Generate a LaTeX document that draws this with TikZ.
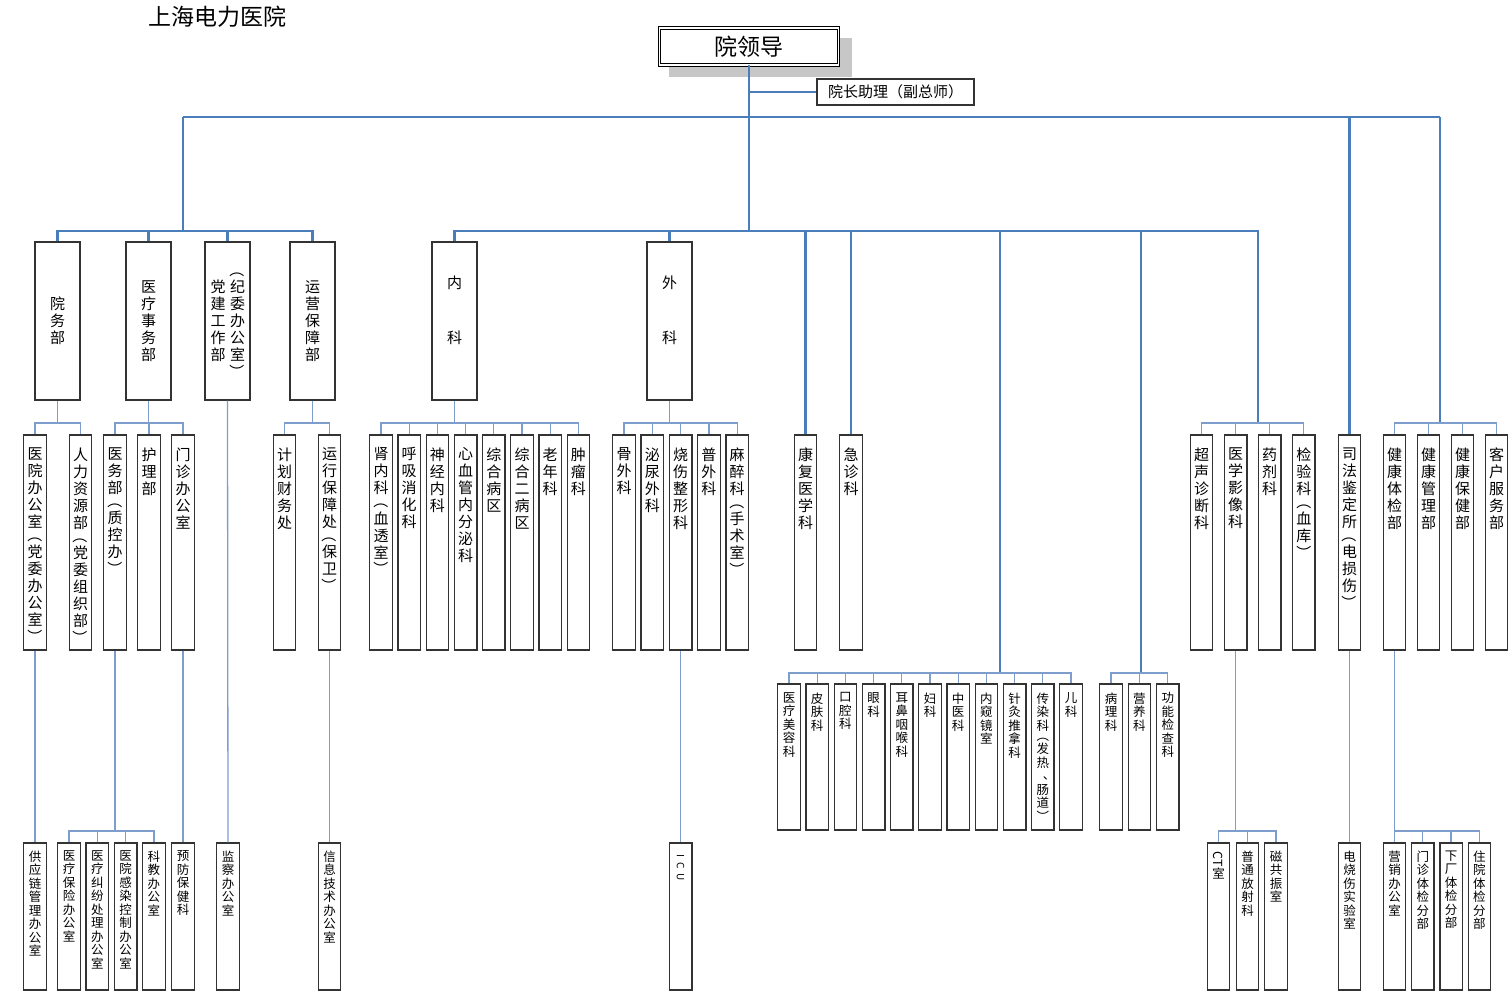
\documentclass[tikz,border=0pt]{standalone}
\usepackage{fontspec}
\usepackage{graphicx}
\setmainfont{Noto Sans CJK SC}

\definecolor{trunkblue}{RGB}{74,126,187}
\definecolor{linkblue}{RGB}{125,158,204}

\makeatletter
% vertical text: one character per line, brackets turned
\def\vt@lp{︵}\def\vt@rp{︶}\def\vt@dn{︑}
\def\vt@L{\rotatebox[origin=c]{-90}{（}}
\def\vt@R{\rotatebox[origin=c]{-90}{）}}
\def\vt@C{\makebox[1em][l]{\hspace{0.5em}\raisebox{0.15em}{、}}}
\def\vt@tight{\\[-0.25em]}
\newcommand\vtxt[1]{%
  \edef\vt@arg{#1}\def\vt@out{}\def\vt@sep{}%
  \expandafter\@tfor\expandafter\vt@c\expandafter:\expandafter=\vt@arg\do{%
    \let\vt@next\\%
    \ifx\vt@c\vt@lp
      \def\vt@item{\vt@L}\ifx\vt@sep\@empty\else\let\vt@sep\vt@tight\fi
    \else\ifx\vt@c\vt@rp
      \def\vt@item{\vt@R}\let\vt@next\vt@tight
    \else\ifx\vt@c\vt@dn
      \def\vt@item{\vt@C}%
    \else
      \let\vt@item\vt@c
    \fi\fi\fi
    \edef\vt@out{\unexpanded\expandafter{\vt@out}\unexpanded\expandafter{\vt@sep}\unexpanded\expandafter{\vt@item}}%
    \ifx\vt@next\vt@tight\def\vt@sep{\vt@tight}\else\def\vt@sep{\\}\fi}%
  \vt@out}
\makeatother

\begin{document}
\begin{tikzpicture}[x=1pt,y=-1pt,
  trunk/.style={draw=trunkblue,line width=2.8pt},
  link/.style={draw=linkblue,line width=1.3pt},
  vt/.style={align=center,inner sep=0pt,font=\fontsize{15}{17}\selectfont},
  vts/.style={align=center,inner sep=0pt,font=\fontsize{12.5}{13.5}\selectfont},
  box/.style={draw=black!80,line width=1.3pt,fill=white,inner sep=0pt},
  lead/.style={draw=black,double=white,double distance=1.6pt,line width=0.9pt,fill=white,
    minimum width=179pt,minimum height=37pt,font=\fontsize{23}{23}\selectfont},
  midbox/.style={box,vt,minimum width=45pt,minimum height=158pt},
  unitbox/.style={box,minimum width=22.5pt,minimum height=215pt},
  subbox/.style={box,minimum width=22.5pt,minimum height=146pt},
  lowbox/.style={box,minimum width=22.5pt,minimum height=147pt},
  toptext/.style={label={[vt,anchor=north,yshift=-13pt]north:{\vtxt{#1}}}},
  subtext/.style={label={[vts,anchor=north,yshift=-9pt]north:{\vtxt{#1}}}},
  lowtext/.style={label={[vts,anchor=north,yshift=-8pt]north:{\vtxt{#1}}}}]
\useasboundingbox (0,0) rectangle (1509,991);

% title
\node[font=\fontsize{23}{23}\selectfont] (title) at (217,17) {上海电力医院};

% leadership
\fill[black!22] (669,38) rectangle (852,77);
\node[lead] (lead) at (749,46.5) {院领导};
\node[box,minimum width=157pt,minimum height=26pt,font=\fontsize{15}{15}\selectfont] (asst) at (895.5,92) {院长助理（副总师）};

% level 2
\node[midbox] (yuanwu) at (57.5,321) {\vtxt{院务部}};
\node[midbox] (yiliao) at (148.5,321) {\vtxt{医疗事务部}};
\node[midbox,label={[vt,xshift=-9.5pt]center:\vtxt{党建工作部}},label={[vt,xshift=10pt]center:\vtxt{︵纪委办公室︶}}] (dangjian) at (227.5,321) {};
\node[midbox] (yunying) at (312.5,321) {\vtxt{运营保障部}};
\node[midbox,label={[vt,yshift=38pt]center:内},label={[vt,yshift=-17pt]center:科}] (neike) at (454.5,321) {};
\node[midbox,label={[vt,yshift=38pt]center:外},label={[vt,yshift=-17pt]center:科}] (waike) at (669.5,321) {};

% level 3
\foreach \n/\x/\t in {bgs/35/医院办公室︵党委办公室︶, rlzy/80.5/人力资源部︵党委组织部︶,
    yiwu/115/医务部︵质控办︶, huli/149/护理部, menzhen/183/门诊办公室,
    caiwu/284.5/计划财务处, baozhang/329.5/运行保障处︵保卫︶,
    kangfu/805.5/康复医学科, jizhen/851/急诊科, sifa/1349.5/司法鉴定所︵电损伤︶}
  \node[unitbox,toptext=\t] (\n) at (\x,542.5) {};
\foreach \t [count=\i] in {肾内科︵血透室︶,呼吸消化科,神经内科,心血管内分泌科,综合病区,综合二病区,老年科,肿瘤科}
  \node[unitbox,toptext=\t] (nk\i) at ({381+28.2*(\i-1)},542.5) {};
\foreach \t [count=\i] in {骨外科,泌尿外科,烧伤整形科,普外科,麻醉科︵手术室︶}
  \node[unitbox,toptext=\t] (wk\i) at ({624+28.3*(\i-1)},542.5) {};
\foreach \t [count=\i] in {超声诊断科,医学影像科,药剂科,检验科︵血库︶}
  \node[unitbox,toptext=\t] (yj\i) at ({1201.5+34.1*(\i-1)},542.5) {};
\foreach \t [count=\i] in {健康体检部,健康管理部,健康保健部,客户服务部}
  \node[unitbox,toptext=\t] (jk\i) at ({1394.5+34*(\i-1)},542.5) {};

% level 4
\foreach \t [count=\i] in {医疗美容科,皮肤科,口腔科,眼科,耳鼻咽喉科,妇科,中医科,内窥镜室,针灸推拿科,传染科︵发热︑肠道︶,儿科}
  \node[subbox,subtext=\t] (zl\i) at ({789+28.2*(\i-1)},757) {};
\foreach \t [count=\i] in {病理科,营养科,功能检查科}
  \node[subbox,subtext=\t] (fz\i) at ({1111+28.4*(\i-1)},757) {};

% bottom row
\foreach \n/\x/\t in {gongying/35/供应链管理办公室, yufang/183/预防保健科, jiancha/228/监察办公室,
    xinxi/329.5/信息技术办公室, dianshao/1349.5/电烧伤实验室}
  \node[lowbox,lowtext=\t] (\n) at (\x,916.5) {};
\foreach \t [count=\i] in {医疗保险办公室,医疗纠纷处理办公室,医院感染控制办公室,科教办公室}
  \node[lowbox,lowtext=\t] (yw\i) at ({69+28.3*(\i-1)},916.5) {};
\foreach \t [count=\i] in {营销办公室,门诊体检分部,下厂体检分部,住院体检分部}
  \node[lowbox,lowtext=\t] (tj\i) at ({1394.5+28.3*(\i-1)},916.5) {};
\node[lowbox,label={[anchor=north,yshift=-12pt,inner sep=0pt,font=\fontsize{10}{10}\selectfont]north:\rotatebox{-90}{I\enspace C\enspace U}}] (icu) at (680.6,916.5) {};
\node[lowbox,label={[vts,anchor=north,yshift=-9pt]north:{\rotatebox{-90}{CT}\\室}}] (fs1) at (1218.5,916.5) {};
\node[lowbox,lowtext=普通放射科] (fs2) at (1247.5,916.5) {};
\node[lowbox,lowtext=磁共振室] (fs3) at (1276,916.5) {};

% main lines
\coordinate (topL) at (183,117);
\coordinate (topR) at (1440,117);
\coordinate (leftbus) at (183,231);
\coordinate (midbus) at (749,231);
\coordinate (yjbus) at (1258,423);
\coordinate (jkbus) at (1440,423);
\coordinate (zlbus) at (1000,673);
\coordinate (fzbus) at (1141,673);
\draw[trunk] (lead.south) |- (asst.west);
\draw[trunk] (lead.south) -- (midbus);
\draw[trunk] (topL) -- (topR);
\draw[trunk] (topL) -- (leftbus);
\draw[trunk] (yuanwu.north) |- (leftbus) -| (yunying.north);
\foreach \n in {yiliao,dangjian} \draw[trunk] (\n.north) -- (\n.north |- leftbus);
\draw[trunk] (neike.north) |- (midbus) -| (yjbus);
\foreach \n in {waike,kangfu,jizhen} \draw[trunk] (\n.north) -- (\n.north |- midbus);
\foreach \c in {zlbus,fzbus} \draw[trunk] (\c) -- (\c |- midbus);
\draw[trunk] (sifa.north) -- (sifa.north |- topR);
\draw[trunk] (jkbus) -- (topR);

% sub lines
\coordinate (yuanwubus) at (57.5,423);
\draw[link] (yuanwu.south) -- (yuanwubus);
\draw[link] (bgs.north) |- (yuanwubus) -| (rlzy.north);
\coordinate (yiliaobus) at (148.5,423);
\draw[link] (yiliao.south) -- (yiliaobus);
\draw[link] (yiwu.north) |- (yiliaobus) -| (menzhen.north);
\draw[link] (huli.north) -- (huli.north |- yiliaobus);
\draw[link] (dangjian.south) -- (jiancha.north);
\coordinate (yunyingbus) at (312.5,423);
\draw[link] (yunying.south) -- (yunyingbus);
\draw[link] (caiwu.north) |- (yunyingbus) -| (baozhang.north);
\coordinate (neikebus) at (454.5,423);
\draw[link] (neike.south) -- (neikebus);
\draw[link] (nk1.north) |- (neikebus) -| (nk8.north);
\foreach \i in {2,...,7} \draw[link] (nk\i.north) -- (nk\i.north |- neikebus);
\coordinate (waikebus) at (669.5,423);
\draw[link] (waike.south) -- (waikebus);
\draw[link] (wk1.north) |- (waikebus) -| (wk5.north);
\foreach \i in {2,3,4} \draw[link] (wk\i.north) -- (wk\i.north |- waikebus);
\draw[link] (yj1.north) |- (yjbus) -| (yj4.north);
\foreach \i in {2,3} \draw[link] (yj\i.north) -- (yj\i.north |- yjbus);
\draw[link] (jk1.north) |- (jkbus) -| (jk4.north);
\foreach \i in {2,3} \draw[link] (jk\i.north) -- (jk\i.north |- jkbus);
\draw[link] (zl1.north) |- (zlbus) -| (zl11.north);
\foreach \i in {2,...,10} \draw[link] (zl\i.north) -- (zl\i.north |- zlbus);
\draw[link] (fz1.north) |- (fzbus) -| (fz3.north);
\draw[link] (fz2.north) -- (fz2.north |- fzbus);

% bottom lines
\draw[link] (bgs.south) -- (gongying.north);
\coordinate (yiwubus) at (115,831);
\draw[link] (yiwu.south) -- (yiwubus);
\draw[link] (yw1.north) |- (yiwubus) -| (yw4.north);
\foreach \i in {2,3} \draw[link] (yw\i.north) -- (yw\i.north |- yiwubus);
\draw[link] (menzhen.south) -- (yufang.north);
\draw[link] (baozhang.south) -- (xinxi.north);
\draw[link] (wk3.south) -- (icu.north);
\coordinate (yxbus) at (yj2.south |- 0,831);
\draw[link] (yj2.south) -- (yxbus);
\draw[link] (fs1.north) |- (yxbus) -| (fs3.north);
\draw[link] (fs2.north) -- (fs2.north |- yxbus);
\draw[link] (sifa.south) -- (dianshao.north);
\coordinate (tjbus) at (1394.5,831);
\draw[link] (jk1.south) -- (tjbus);
\draw[link] (tj1.north) |- (tjbus) -| (tj4.north);
\foreach \i in {2,3} \draw[link] (tj\i.north) -- (tj\i.north |- tjbus);
\end{tikzpicture}
\end{document}
